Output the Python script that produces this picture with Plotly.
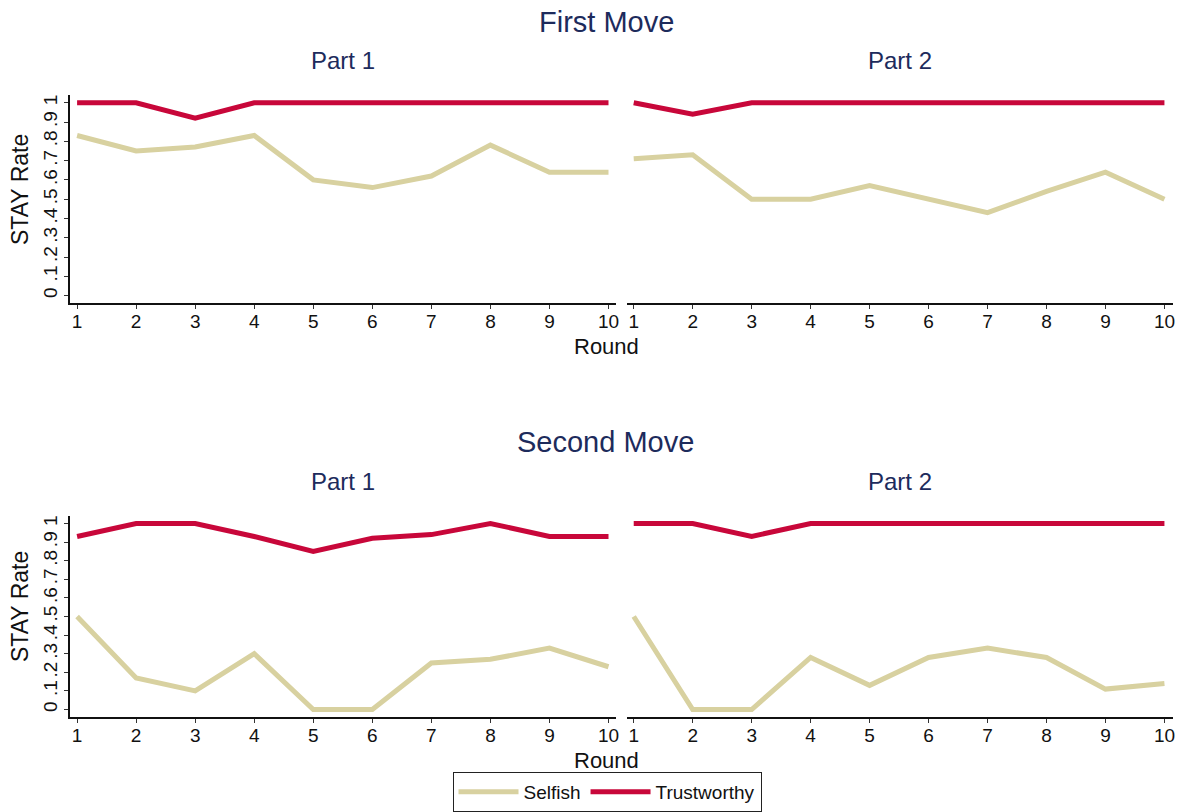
import plotly.graph_objects as go

# Rounds and STAY rates per move / part / player type
rounds = list(range(1, 11))

first_p1_selfish = [0.83, 0.75, 0.77, 0.83, 0.60, 0.56, 0.62, 0.78, 0.64, 0.64]
first_p1_trust = [1.0, 1.0, 0.92, 1.0, 1.0, 1.0, 1.0, 1.0, 1.0, 1.0]
first_p2_selfish = [0.71, 0.73, 0.50, 0.50, 0.57, 0.50, 0.43, 0.54, 0.64, 0.50]
first_p2_trust = [1.0, 0.94, 1.0, 1.0, 1.0, 1.0, 1.0, 1.0, 1.0, 1.0]

second_p1_selfish = [0.50, 0.17, 0.10, 0.30, 0.0, 0.0, 0.25, 0.27, 0.33, 0.23]
second_p1_trust = [0.93, 1.0, 1.0, 0.93, 0.85, 0.92, 0.94, 1.0, 0.93, 0.93]
second_p2_selfish = [0.50, 0.0, 0.0, 0.28, 0.13, 0.28, 0.33, 0.28, 0.11, 0.14]
second_p2_trust = [1.0, 1.0, 0.93, 1.0, 1.0, 1.0, 1.0, 1.0, 1.0, 1.0]

y_tickvals = [0, 0.1, 0.2, 0.3, 0.4, 0.5, 0.6, 0.7, 0.8, 0.9, 1.0]
y_ticktext = ["0", ".1", ".2", ".3", ".4", ".5", ".6", ".7", ".8", ".9", "1"]

W, H = 1183, 812
SELFISH = "#D8D1A0"
TRUST = "#C8073A"
NAVY = "#1D2B5C"
FONT = "Arial, Liberation Sans, sans-serif"


def px_x(p):
    return p / W


def px_y(p):
    return 1 - p / H


panels = [
    # (xaxis id, yaxis id, selfish, trustworthy)
    ("x", "y", first_p1_selfish, first_p1_trust),
    ("x2", "y2", first_p2_selfish, first_p2_trust),
    ("x3", "y3", second_p1_selfish, second_p1_trust),
    ("x4", "y4", second_p2_selfish, second_p2_trust),
]

fig = go.Figure()
for i, (xa, ya, sel, tru) in enumerate(panels):
    fig.add_trace(go.Scatter(
        x=rounds, y=sel, mode="lines", name="Selfish",
        line=dict(color=SELFISH, width=5), xaxis=xa, yaxis=ya,
        showlegend=(i == 0), legendrank=1,
    ))
    fig.add_trace(go.Scatter(
        x=rounds, y=tru, mode="lines", name="Trustworthy",
        line=dict(color=TRUST, width=5), xaxis=xa, yaxis=ya,
        showlegend=(i == 0), legendrank=2,
    ))

left_dom = [px_x(70), px_x(616)]
right_dom = [px_x(626.7), px_x(1172.7)]
top_dom = [px_y(303.3), px_y(95)]
bot_dom = [px_y(717), px_y(516)]

xcommon = dict(
    tickvals=rounds, ticktext=[str(r) for r in rounds],
    showline=True, linecolor="#111111", linewidth=1.5,
    ticks="outside", ticklen=4, tickwidth=1, tickcolor="#333333",
    ticklabelstandoff=-4,
    showgrid=False, zeroline=False, automargin=False,
    tickfont=dict(family=FONT, size=19, color="#111111"),
)
ycommon = dict(range=[-0.04, 1.04], showgrid=False, zeroline=False, automargin=False)
yleft = dict(
    ycommon, tickvals=y_tickvals, ticktext=y_ticktext, tickangle=-90,
    showline=True, linecolor="#111111", linewidth=1.5,
    ticks="outside", ticklen=4, tickwidth=1, tickcolor="#333333",
    tickfont=dict(family=FONT, size=19, color="#111111"),
)
yright = dict(ycommon, showline=False, showticklabels=False, ticks="")

fig.update_layout(
    width=W, height=H, autosize=False,
    margin=dict(l=0, r=0, t=0, b=0, pad=0),
    paper_bgcolor="white", plot_bgcolor="white",
    font=dict(family=FONT, color="#111111"),
    xaxis=dict(xcommon, domain=left_dom, range=[0.88, 10.127], anchor="y"),
    xaxis2=dict(xcommon, domain=right_dom, range=[0.881, 10.14], anchor="y2"),
    xaxis3=dict(xcommon, domain=left_dom, range=[0.88, 10.127], anchor="y3"),
    xaxis4=dict(xcommon, domain=right_dom, range=[0.881, 10.14], anchor="y4"),
    yaxis=dict(yleft, domain=top_dom, anchor="x"),
    yaxis2=dict(yright, domain=top_dom, anchor="x2"),
    yaxis3=dict(yleft, domain=bot_dom, anchor="x3"),
    yaxis4=dict(yright, domain=bot_dom, anchor="x4"),
    legend=dict(
        orientation="h", xref="paper", yref="paper",
        x=px_x(607), xanchor="center", y=0, yanchor="bottom",
        bordercolor="#222222", borderwidth=1, bgcolor="white",
        font=dict(family=FONT, size=19, color="#111111"),
        itemwidth=60, traceorder="normal",
    ),
)

ann = []


def text(x, y, s, size, color="#111111", angle=0):
    ann.append(dict(
        x=px_x(x), y=px_y(y), xref="paper", yref="paper", text=s,
        showarrow=False, xanchor="center", yanchor="middle", textangle=angle,
        font=dict(family=FONT, size=size, color=color),
    ))


text(606.5, 22, "First Move", 29, NAVY)
text(343, 60, "Part 1", 24, NAVY)
text(899.7, 60, "Part 2", 24, NAVY)
text(606, 346, "Round", 22)
text(20, 190, "STAY Rate", 23, angle=-90)

text(605.5, 442, "Second Move", 29, NAVY)
text(343, 481, "Part 1", 24, NAVY)
text(899.7, 481, "Part 2", 24, NAVY)
text(606, 760, "Round", 22)
text(20, 607, "STAY Rate", 23, angle=-90)

fig.update_layout(annotations=ann)

fig.write_html("out.html")
